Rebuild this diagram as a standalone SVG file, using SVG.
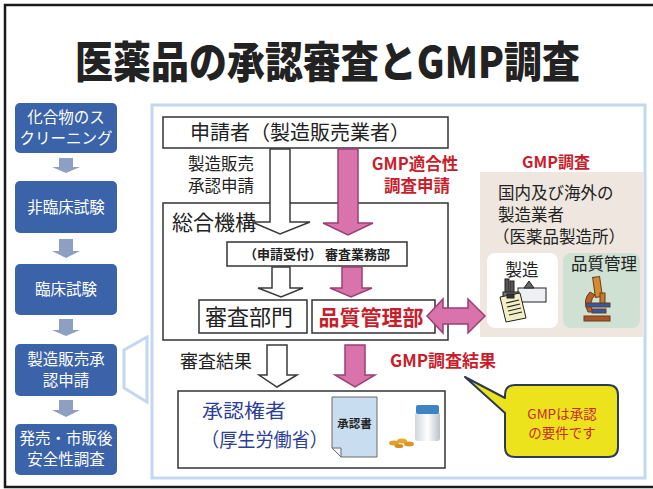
<svg xmlns="http://www.w3.org/2000/svg" width="653" height="489" viewBox="0 0 653 489">
  <defs>
    <style>
      .jp { font-family: "Noto Sans CJK JP", "Noto Sans", sans-serif; }
      .step rect { fill: #3b63a9; }
      .step text { fill: #ffffff; font-size: 15.5px; text-anchor: middle; }
      .box { fill: #ffffff; stroke: #333333; stroke-width: 1.5; }
      .warr { fill: #ffffff; stroke: #3a3a3a; stroke-width: 1.5; stroke-linejoin: miter; }
      .parr { fill: #d873ac; stroke: #9b3f76; stroke-width: 1.5; }
      .garr { fill: #8e9fc4; }
      .red { fill: #c81e2c; font-weight: bold; }
      .blk { fill: #222222; }
    </style>
    <linearGradient id="bottleGrad" x1="0" y1="0" x2="1" y2="0">
      <stop offset="0" stop-color="#cfd6dc"/>
      <stop offset="0.5" stop-color="#ffffff"/>
      <stop offset="1" stop-color="#b9c2ca"/>
    </linearGradient>
  </defs>

  <!-- page -->
  <rect x="0" y="0" width="653" height="489" fill="#ffffff"/>
  <rect x="5" y="5" width="660" height="482" fill="none" stroke="#1a1a1a" stroke-width="2.5"/>

  <!-- title -->
  <text class="jp" x="75" y="78" font-size="43" font-weight="900" fill="#222222" textLength="505" lengthAdjust="spacingAndGlyphs">医薬品の承認審査とGMP調査</text>

  <!-- process frame -->
  <rect x="152" y="105" width="493" height="373" fill="#ffffff" stroke="#c3d8ee" stroke-width="3"/>
  <polygon points="124,350 147,337 147,402 124,388" fill="none" stroke="#c3d8ee" stroke-width="3"/>

  <!-- development steps -->
  <g id="step-screening" class="step jp">
    <rect x="15" y="103" width="102" height="50" rx="5"/>
    <text x="66" y="123">化合物のス</text>
    <text x="66" y="144">クリーニング</text>
  </g>
  <g id="step-nonclinical" class="step jp">
    <rect x="15" y="181" width="102" height="52" rx="5"/>
    <text x="66" y="213">非臨床試験</text>
  </g>
  <g id="step-clinical" class="step jp">
    <rect x="15" y="264" width="102" height="51" rx="5"/>
    <text x="66" y="295">臨床試験</text>
  </g>
  <g id="step-application" class="step jp">
    <rect x="15" y="344" width="102" height="52" rx="5"/>
    <text x="66" y="365">製造販売承</text>
    <text x="66" y="386">認申請</text>
  </g>
  <g id="step-postmarket" class="step jp">
    <rect x="15" y="424" width="102" height="51" rx="5"/>
    <text x="66" y="444">発売・市販後</text>
    <text x="66" y="465">安全性調査</text>
  </g>

  <!-- applicant -->
  <g id="applicant">
    <rect class="box" x="163" y="117" width="285" height="31"/>
    <text class="jp blk" x="300" y="139.5" font-size="20" text-anchor="middle">申請者（製造販売業者）</text>
  </g>

  <!-- PMDA -->
  <g id="pmda">
    <rect class="box" x="163" y="203" width="285" height="137"/>
    <text class="jp blk" x="172" y="230" font-size="21">総合機構</text>
  </g>
  <g id="reception">
    <rect class="box" x="227" y="242" width="180" height="24"/>
    <text class="jp blk" x="317" y="259" font-size="13" font-weight="bold" text-anchor="middle">（申請受付） 審査業務部</text>
  </g>
  <g id="review-dept">
    <rect class="box" x="199" y="300" width="108" height="33"/>
    <text class="jp blk" x="249" y="325" font-size="22" text-anchor="middle">審査部門</text>
  </g>
  <g id="quality-dept">
    <rect class="box" x="312" y="300" width="123" height="33"/>
    <text class="jp red" x="371" y="324.5" font-size="21" text-anchor="middle">品質管理部</text>
  </g>

  <!-- approval authority -->
  <g id="authority">
    <rect class="box" x="178" y="391" width="267" height="77"/>
    <text class="jp" x="202" y="418" font-size="19.5" fill="#2d3e98" textLength="84" lengthAdjust="spacingAndGlyphs">承認権者</text>
    <text class="jp" x="201" y="447" font-size="19.5" fill="#2d3e98" textLength="127" lengthAdjust="spacingAndGlyphs">（厚生労働省）</text>
    <!-- approval certificate -->
    <polygon points="332,397 377,397 377,457 341,457 332,448" fill="#c9ddf0" stroke="#6a6a6a" stroke-width="1"/>
    <polygon points="332,448 341,448 341,457" fill="#f4f4f4" stroke="#6a6a6a" stroke-width="1"/>
    <text class="jp blk" x="354.5" y="428" font-size="11.5" font-weight="bold" text-anchor="middle">承認書</text>
    <!-- medicine bottle and tablets -->
    <rect x="415" y="412" width="25" height="29" rx="3" fill="url(#bottleGrad)"/>
    <rect x="416" y="405" width="23" height="9" rx="2" fill="#3d84c6"/>
    <ellipse cx="394" cy="443" rx="5" ry="2.5" fill="#e0a030"/>
    <ellipse cx="402" cy="441" rx="5" ry="2.5" fill="#e8a72c"/>
    <ellipse cx="409" cy="444" rx="5" ry="2.5" fill="#d9962a"/>
    <ellipse cx="399" cy="446" rx="4.5" ry="2" fill="#d28f26"/>
  </g>

  <!-- manufacturers -->
  <g id="manufacturer">
    <text class="jp red" x="556" y="168" font-size="16" text-anchor="middle">GMP調査</text>
    <rect x="480" y="172" width="163" height="165" fill="#efe7df"/>
    <text class="jp blk" x="498" y="199" font-size="16.5">国内及び海外の</text>
    <text class="jp blk" x="498" y="221" font-size="16.5">製造業者</text>
    <text class="jp blk" x="493" y="243" font-size="16.5">（医薬品製造所）</text>
    <rect x="487" y="253" width="71" height="75" rx="8" fill="#ffffff"/>
    <rect x="563" y="253" width="77" height="75" rx="8" fill="#cfe1d2"/>
    <text class="jp blk" x="522" y="276" font-size="16.5" text-anchor="middle">製造</text>
    <text class="jp blk" x="604" y="270" font-size="16.5" text-anchor="middle">品質管理</text>
    <!-- factory with clipboard -->
    <g stroke="#222222" stroke-width="1">
      <rect x="505" y="279" width="4" height="14" fill="#555555"/>
      <rect x="510" y="281" width="4" height="12" fill="#555555"/>
      <rect x="518" y="288" width="28" height="14" fill="#eef1f4"/>
      <polygon points="524,288 529,281 534,288" fill="#666666"/>
      <rect x="503" y="292" width="16" height="10" fill="#777777"/>
      <polygon points="500,297 520,293 526,318 506,322" fill="#f3efc4"/>
      <rect x="507" y="294" width="7" height="4" fill="#333333"/>
    </g>
    <g stroke="#222222" stroke-width="1.2">
      <line x1="506" y1="303" x2="519" y2="300"/>
      <line x1="507" y1="307" x2="520" y2="304"/>
      <line x1="508" y1="311" x2="521" y2="308"/>
      <line x1="509" y1="315" x2="522" y2="312"/>
    </g>
    <!-- microscope -->
    <g stroke="#6b3a1c" stroke-width="1">
      <rect x="594" y="277" width="7" height="20" fill="#d58b2e" transform="rotate(-8 597 287)"/>
      <path d="M 590 292 Q 582 300 588 312 L 593 312 Q 588 302 595 295 Z" fill="#b5602a"/>
      <rect x="586" y="303" width="24" height="4" fill="#2f5aa8"/>
      <rect x="592" y="309" width="14" height="4" fill="#2f5aa8"/>
      <rect x="584" y="316" width="26" height="5" fill="#a85628"/>
      <rect x="600" y="293" width="5" height="10" fill="#c47a2d"/>
    </g>
  </g>

  <!-- callout -->
  <g id="callout">
    <path d="M 515 385 L 608 385 Q 618 385 618 395 L 618 447 Q 618 457 608 457 L 515 457 Q 505 457 505 447 L 505 413 L 465 377 L 505 398 L 505 395 Q 505 385 515 385 Z" fill="#ece31c" stroke="#2b3a55" stroke-width="2" stroke-linejoin="round"/>
    <text class="jp" x="562" y="419" font-size="13.5" fill="#c8282c" text-anchor="middle">GMPは承認</text>
    <text class="jp" x="562" y="438" font-size="13.5" fill="#c8282c" text-anchor="middle">の要件です</text>
  </g>

  <!-- connectors -->
  <g id="connectors">
    <polygon class="warr" points="270,149 290,149 290,222 310,222 280,234 252,222 270,222"/>
    <polygon class="parr" points="338,149 358,149 358,223 373,223 348,235 323,223 338,223"/>
    <polygon class="warr" points="272,267 290,267 290,288 303,288 281,297 258,288 272,288"/>
    <polygon class="parr" points="342,267 362,267 362,288 372,288 351,297 330,288 342,288"/>
    <polygon class="warr" points="267,345 287,345 287,375 297,375 277,387 259,375 267,375"/>
    <polygon class="parr" points="345,345 365,345 365,375 375,375 355,387 335,375 345,375"/>
    <polygon class="parr" points="427,316 443,299 443,308 468,308 468,299 485,316 468,333 468,324 443,324 443,333"/>
    <!-- step arrows -->
    <polygon class="garr" points="59,158 73,158 73,167 80,167 66,173 52,167 59,167"/>
    <polygon class="garr" points="59,239 73,239 73,251 80,251 66,258 52,251 59,251"/>
    <polygon class="garr" points="59,319 73,319 73,330 80,330 66,336 52,330 59,330"/>
    <polygon class="garr" points="59,400 73,400 73,410 80,410 66,417 52,410 59,410"/>
  </g>

  <!-- connector labels -->
  <g id="labels">
    <text class="jp blk" x="221" y="170" font-size="16.5" text-anchor="middle">製造販売</text>
    <text class="jp blk" x="221" y="192" font-size="16.5" text-anchor="middle">承認申請</text>
    <text class="jp red" x="415" y="170" font-size="16.5" text-anchor="middle">GMP適合性</text>
    <text class="jp red" x="417" y="192" font-size="16.5" text-anchor="middle">調査申請</text>
    <text class="jp blk" x="180" y="368" font-size="18">審査結果</text>
    <text class="jp red" x="390" y="367" font-size="17">GMP調査結果</text>
  </g>
</svg>
